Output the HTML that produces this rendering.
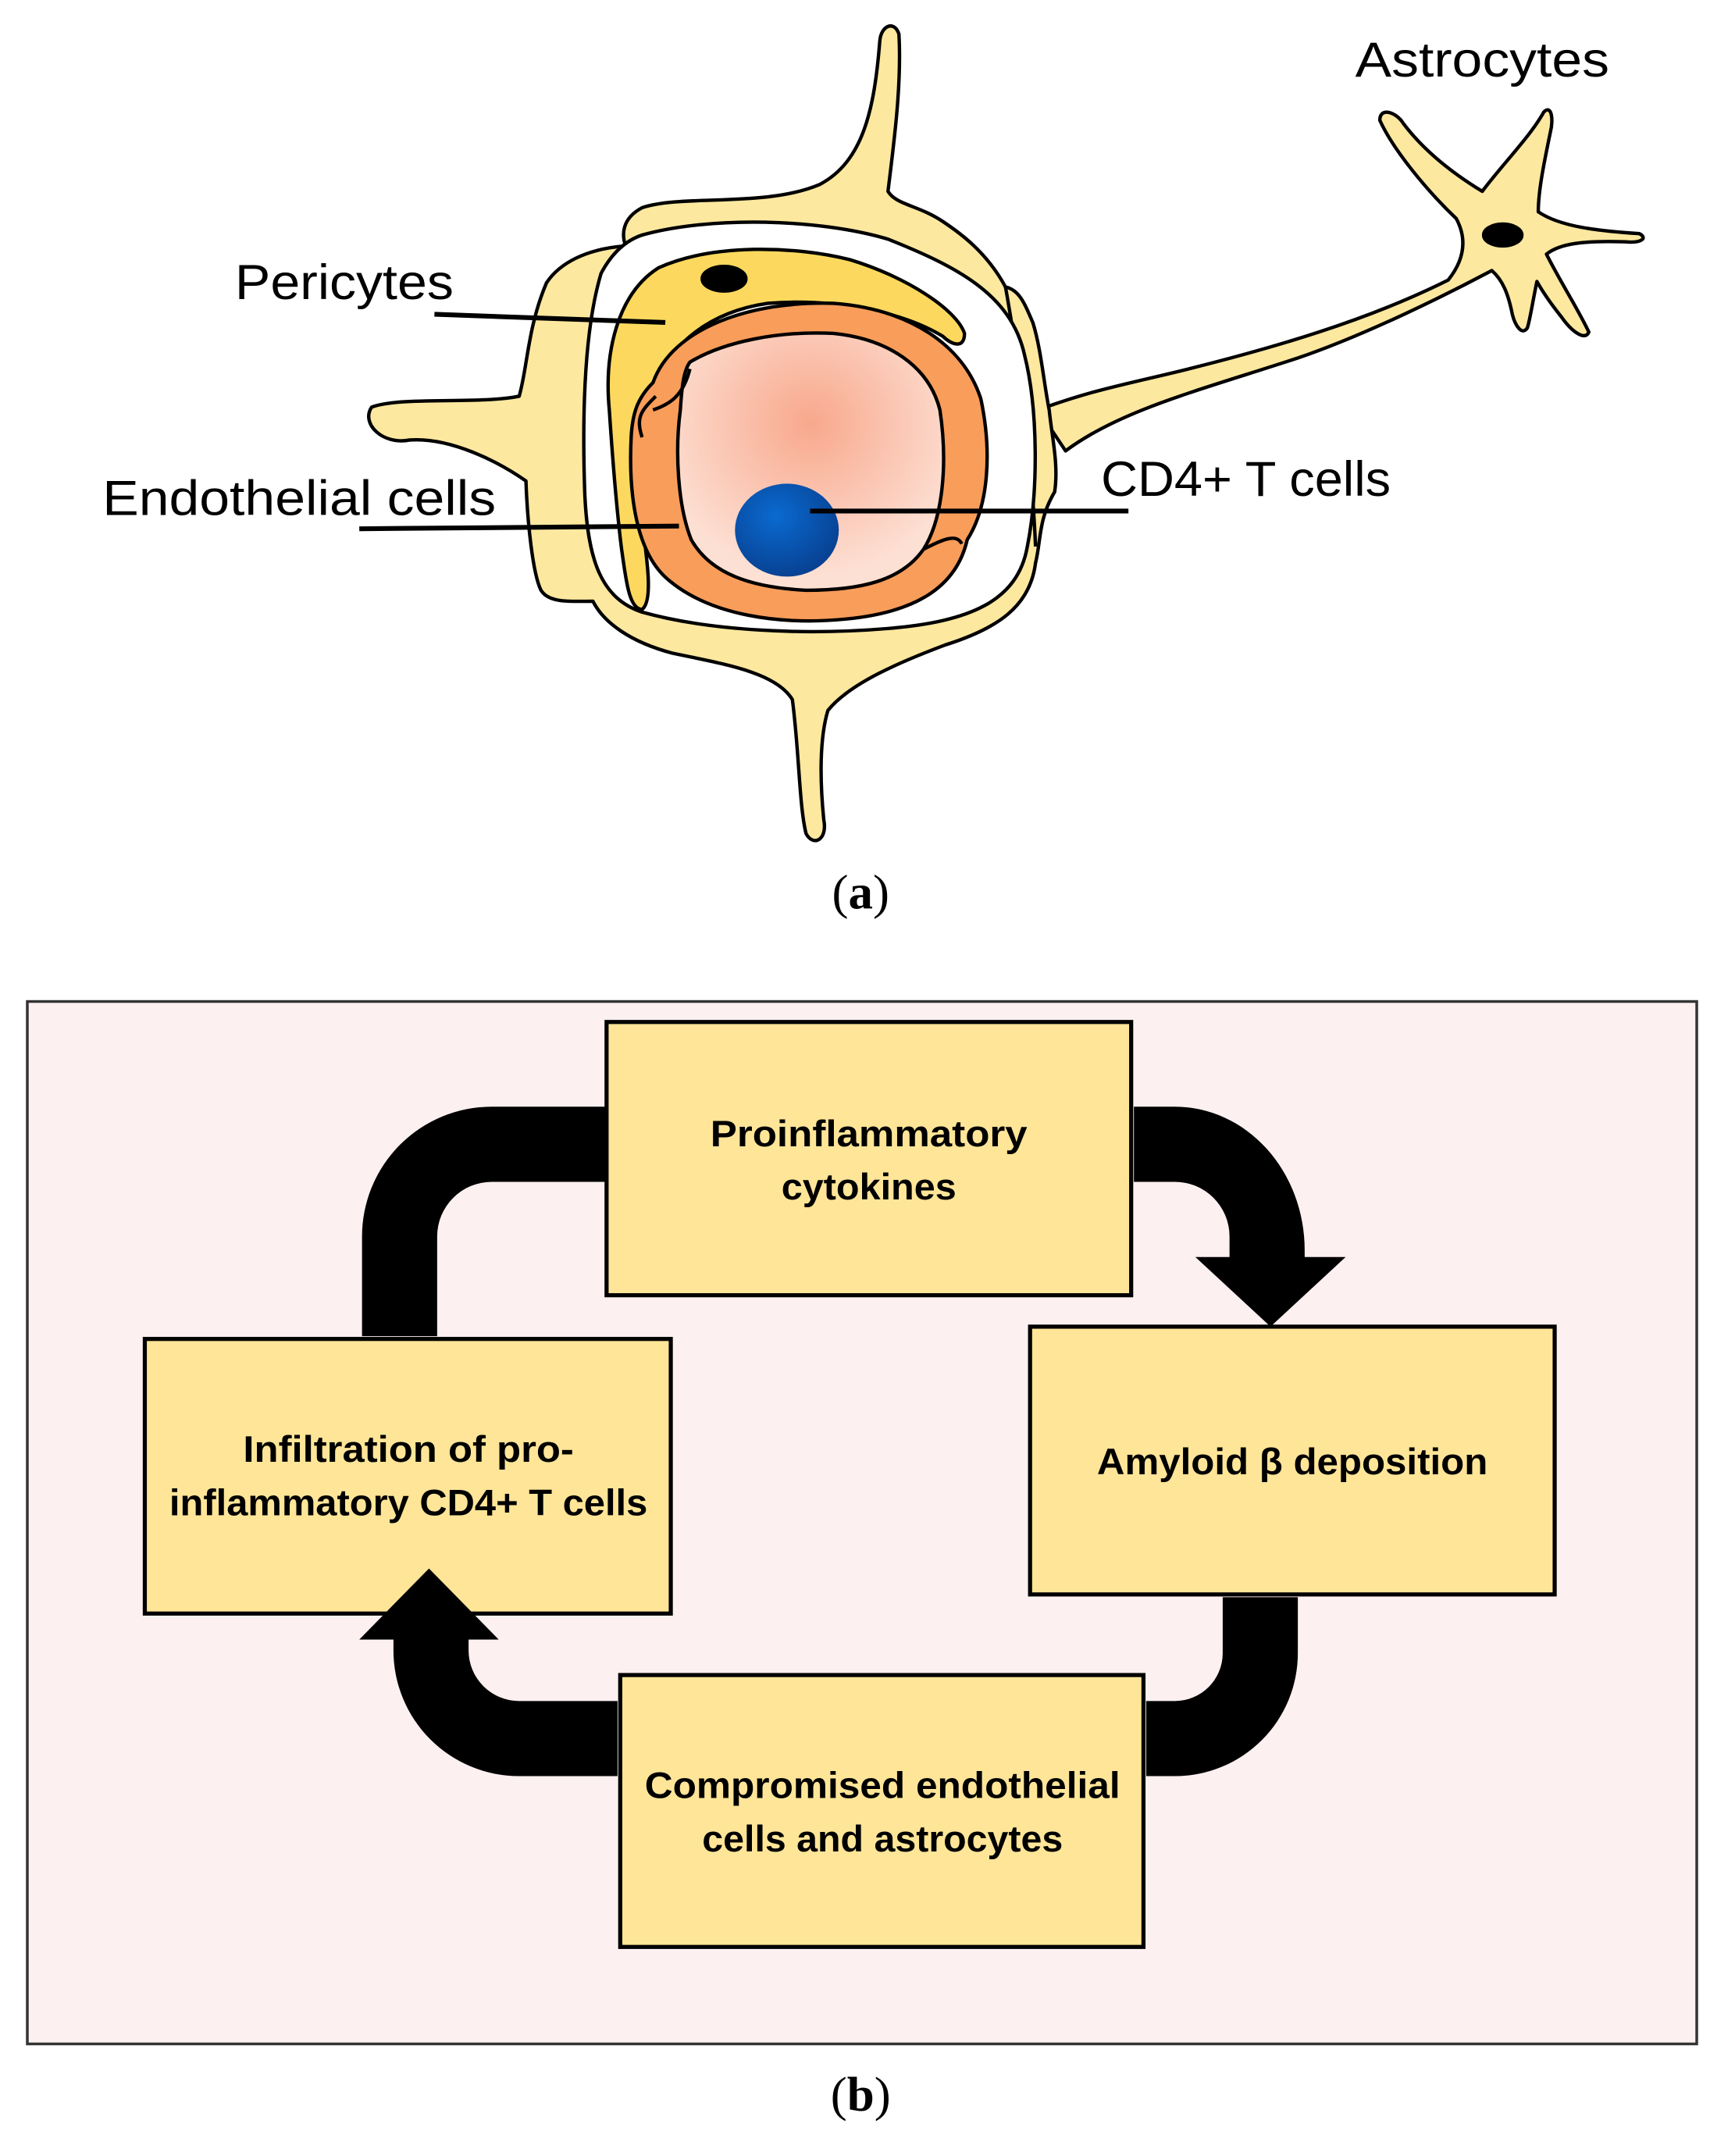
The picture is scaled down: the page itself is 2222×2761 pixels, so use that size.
<!DOCTYPE html>
<html><head><meta charset="utf-8"><style>html,body{margin:0;padding:0;background:#fff}svg{display:block}</style></head>
<body>
<svg width="2222" height="2761" viewBox="0 0 1270 1578" xmlns="http://www.w3.org/2000/svg" font-family="Liberation Sans, sans-serif">
<defs>
<radialGradient id="lum" cx="0.5" cy="0.35" r="0.6"><stop offset="0" stop-color="#f8a88c"/><stop offset="1" stop-color="#fde0d4"/></radialGradient>
<radialGradient id="tc" cx="0.4" cy="0.35" r="0.7"><stop offset="0" stop-color="#0a6ad0"/><stop offset="1" stop-color="#083f8f"/></radialGradient>
</defs>
<g stroke="#000" stroke-width="2.5" stroke-linejoin="round">
<path fill="#fde89f" d="M 760,300 C 800,285 830,280 870,270 C 930,255 1000,235 1060,205 C 1072,190 1074,175 1066,160 C 1045,140 1020,110 1010,88 C 1010,78 1022,82 1027,90 C 1042,110 1062,126 1085,140 C 1100,120 1120,100 1130,82 C 1136,76 1137,88 1135,96 C 1130,120 1126,140 1126,155 C 1142,166 1170,169 1200,171 C 1206,174 1202,178 1190,177 C 1160,176 1142,178 1132,186 C 1142,206 1155,226 1163,243 C 1160,250 1150,242 1143,232 C 1135,222 1130,215 1125,206 C 1122,220 1120,234 1118,240 C 1114,246 1109,238 1107,230 C 1104,215 1100,205 1092,198 C 1060,215 1000,245 950,262 C 880,285 820,300 780,330 Z"/>
<path fill="#fde89f" d="M 650,140 C 655,100 660,60 658,25 C 655,15 645,18 644,30 C 640,80 632,118 600,135 C 560,152 500,142 470,152 C 455,160 455,172 458,180 C 430,182 410,192 400,207 C 386,240 386,270 380,290 C 350,296 292,290 272,298 C 264,310 280,326 300,322 C 330,320 365,338 385,352 C 386,382 390,420 396,432 C 402,442 420,440 434,440 C 442,456 462,470 492,478 C 530,486 568,492 580,512 C 585,550 585,590 590,610 C 595,620 606,615 603,600 C 600,570 600,540 606,520 C 622,500 660,484 692,472 C 730,460 754,444 758,412 C 762,396 760,380 772,360 C 775,340 770,320 768,300 C 764,280 762,255 756,236 C 750,222 746,212 736,210 C 722,184 702,170 690,162 C 672,150 656,150 650,140 Z"/>
<path fill="none" d="M 458,180 C 460,250 450,350 455,440 M 736,210 C 745,260 755,330 758,400"/>
<path fill="#fff" d="M 470,172 C 520,158 600,160 650,175 C 700,195 740,215 750,260 C 760,300 760,360 752,400 C 745,440 710,455 650,460 C 590,465 520,462 470,448 C 440,438 430,410 428,360 C 426,300 428,240 440,200 C 448,185 458,176 470,172 Z"/>
<path fill="#fcd95e" d="M 446,300 C 442,258 452,215 482,196 C 522,178 582,180 622,190 C 662,202 700,226 706,244 C 706,256 696,252 690,246 C 660,228 610,218 562,222 C 520,228 490,252 480,282 C 470,312 466,350 470,382 C 474,412 478,440 470,446 C 460,446 458,422 455,402 C 451,370 448,330 446,300 Z"/>
<ellipse cx="530" cy="204" rx="16" ry="9" fill="#000"/>
<ellipse cx="1100" cy="172" rx="14" ry="8" fill="#000"/>
<path fill="#f99d5a" d="M 478,280 C 492,240 550,220 610,222 C 665,226 705,252 718,292 C 726,330 724,370 708,395 C 700,430 670,448 620,453 C 570,458 520,450 490,425 C 465,405 460,360 462,320 C 463,300 468,290 478,280 Z"/>
<path fill="url(#lum)" d="M 505,265 C 530,250 570,242 610,244 C 650,248 680,268 688,300 C 694,340 690,380 676,402 C 660,425 630,432 590,432 C 550,430 520,420 506,395 C 496,370 494,330 498,300 C 499,285 500,272 505,265 Z"/>
<path fill="none" d="M 478,300 C 490,296 500,290 505,270 M 676,402 C 690,395 700,390 704,398 M 480,290 C 470,300 465,305 470,320"/>
<ellipse cx="576" cy="388" rx="38" ry="34" fill="url(#tc)" stroke="none"/>
</g>
<g stroke="#000" stroke-width="3.5">
<line x1="318" y1="230" x2="487" y2="236"/>
<line x1="263" y1="387" x2="497" y2="385"/>
<line x1="593" y1="374" x2="826" y2="374"/>
</g>
<g font-size="36" fill="#000">
<text x="992" y="56" textLength="186" lengthAdjust="spacingAndGlyphs">Astrocytes</text>
<text x="172" y="219" textLength="160" lengthAdjust="spacingAndGlyphs">Pericytes</text>
<text x="75" y="377" textLength="288" lengthAdjust="spacingAndGlyphs">Endothelial cells</text>
<text x="806" y="363" textLength="212" lengthAdjust="spacingAndGlyphs">CD4+ T cells</text>
</g>
<text x="630" y="665" font-family="Liberation Serif, serif" font-size="36" text-anchor="middle">(<tspan font-weight="bold">a</tspan>)</text>
<text x="630" y="1545" font-family="Liberation Serif, serif" font-size="36" text-anchor="middle">(<tspan font-weight="bold">b</tspan>)</text>

<rect x="20" y="733" width="1222" height="763" fill="#fdf0f0" stroke="#333" stroke-width="2"/>
<g fill="#fee598" stroke="#000" stroke-width="3">
<rect x="444" y="748" width="384" height="200"/>
<rect x="754" y="971" width="384" height="196"/>
<rect x="106" y="980" width="385" height="201"/>
<rect x="454" y="1226" width="383" height="199"/>
</g>
<g fill="#000">
<path d="M 444,810 L 360,810 A 95,95 0 0 0 265,905 L 265,978 L 320,978 L 320,905 A 40,40 0 0 1 360,865 L 444,865 Z"/>
<path d="M 830,810 L 860,810 A 95,105 0 0 1 955,915 L 955,920 L 985,920 L 930,971 L 875,920 L 900,920 L 900,905 A 40,40 0 0 0 860,865 L 830,865 Z"/>
<path d="M 895,1169 L 950,1169 L 950,1210 A 90,90 0 0 1 860,1300 L 839,1300 L 839,1245 L 860,1245 A 35,35 0 0 0 895,1210 Z"/>
<path d="M 452,1245 L 380,1245 A 37,37 0 0 1 343,1208 L 343,1200 L 365,1200 L 314,1148 L 263,1200 L 288,1200 L 288,1208 A 92,92 0 0 0 380,1300 L 452,1300 Z"/>
</g>
<g font-size="27" font-weight="bold" text-anchor="middle" fill="#000">
<text x="636" y="839" textLength="232" lengthAdjust="spacingAndGlyphs">Proinflammatory</text>
<text x="636" y="878" textLength="128" lengthAdjust="spacingAndGlyphs">cytokines</text>
<text x="946" y="1079" textLength="286" lengthAdjust="spacingAndGlyphs">Amyloid β deposition</text>
<text x="299" y="1070" textLength="242" lengthAdjust="spacingAndGlyphs">Infiltration of pro-</text>
<text x="299" y="1109" textLength="350" lengthAdjust="spacingAndGlyphs">inflammatory CD4+ T cells</text>
<text x="646" y="1316" textLength="348" lengthAdjust="spacingAndGlyphs">Compromised endothelial</text>
<text x="646" y="1355" textLength="264" lengthAdjust="spacingAndGlyphs">cells and astrocytes</text>
</g>
</svg>
</body></html>
